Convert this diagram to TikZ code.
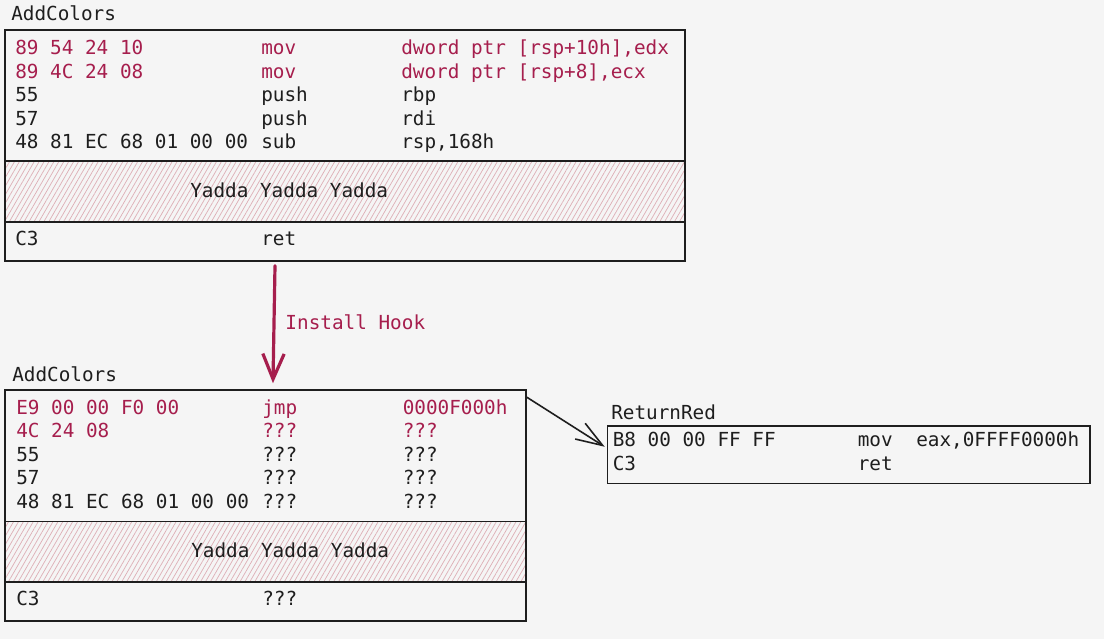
\documentclass[tikz,border=0pt]{standalone}
\usepackage{fontspec}
\setmonofont{DejaVu Sans Mono}
\usepackage{tikz}
\usetikzlibrary{arrows.meta,patterns.meta,fit}
\definecolor{hookred}{RGB}{166,30,77}
\definecolor{hookink}{RGB}{30,30,30}
\definecolor{hookpaper}{RGB}{245,245,245}
\definecolor{hookhatch}{RGB}{222,176,183}

\begin{document}
\begin{tikzpicture}[x=0.75pt,y=-0.75pt,
    asm/.style={font=\ttfamily\fontsize{14.5}{17}\selectfont, text=hookink, anchor=base west, inner sep=0pt},
    fnbox/.style={draw=hookink, line width=1.2pt, inner sep=0pt},
    yaddabox/.style={fnbox, pattern={Lines[angle=60,distance=3.2pt,line width=0.55pt]}, pattern color=hookhatch}]
    % paper
    \fill[hookpaper] (0,0) rectangle (1104,639);

    % original function
    \node[asm] (oldtitle) at (11,21) {AddColors};
    \node[yaddabox, fit={(5,161) (685,222)}] (oldyadda) {};
    \node[fnbox, fit={(5,30) (685,261)}] (oldfn) {};
    \foreach \y/\hex/\op/\arg/\ink [count=\i] in {
        54.5/89 54 24 10/mov/{dword ptr [rsp+10h],edx}/hookred,
        78/89 4C 24 08/mov/{dword ptr [rsp+8],ecx}/hookred,
        101.5/55/push/rbp/hookink,
        125/57/push/rdi/hookink,
        148.5/48 81 EC 68 01 00 00/sub/{rsp,168h}/hookink} {
        \node[asm, text=\ink] (oldhex\i) at (15,\y) {\hex};
        \node[asm, text=\ink] (oldop\i) at (261,\y) {\op};
        \node[asm, text=\ink] (oldarg\i) at (401,\y) {\arg};
    }
    \node[asm] (oldfill) at (190,197) {Yadda Yadda Yadda};
    \node[asm] (oldhexret) at (15,245) {C3};
    \node[asm] (oldret) at (261,245) {ret};

    % hooked function
    \node[asm] (newtitle) at (12,381.5) {AddColors};
    \node[yaddabox, fit={(5,521.5) (526,582)}] (newyadda) {};
    \node[fnbox, fit={(5,390) (526,621)}] (newfn) {};
    \foreach \y/\hex/\op/\arg/\ink [count=\i] in {
        414/E9 00 00 F0 00/jmp/0000F000h/hookred,
        437.5/4C 24 08/???/???/hookred,
        461/55/???/???/hookink,
        484.5/57/???/???/hookink,
        508/48 81 EC 68 01 00 00/???/???/hookink} {
        \node[asm, text=\ink] (newhex\i) at (16,\y) {\hex};
        \node[asm, text=\ink] (newop\i) at (262,\y) {\op};
        \node[asm, text=\ink] (newarg\i) at (402.5,\y) {\arg};
    }
    \node[asm] (newfill) at (191,557) {Yadda Yadda Yadda};
    \node[asm] (newhexret) at (16,605) {C3};
    \node[asm] (newret) at (262,605) {???};

    % hook target
    \node[asm] (rettitle) at (611,419.5) {ReturnRed};
    \node[fnbox, fit={(607.5,426) (1090,483.5)}] (retred) {};
    \node[asm] (rethex1) at (612.5,446.5) {B8 00 00 FF FF};
    \node[asm] (retop1) at (857.5,446.5) {mov};
    \node[asm] (retarg1) at (916,446.5) {eax,0FFFF0000h};
    \node[asm] (rethex2) at (612.5,470) {C3};
    \node[asm] (retop2) at (857.5,470) {ret};

    % arrows
    \draw[hookred, line width=2.4pt, line cap=round, -{Straight Barb[length=19pt,width=16pt]}]
        ([xshift=-52.5pt,yshift=-3pt]oldfn.south) -- ([xshift=5.6pt,yshift=4.5pt]newfn.north)
        node[asm, text=hookred, pos=0.546, xshift=7.5pt] (hooklbl) {Install Hook};
    \draw[hookink, line width=1.2pt, -{Straight Barb[length=20pt,width=14pt]}]
        ([yshift=-6pt]newfn.north east) -- ([xshift=-1.5pt,yshift=6pt]retred.west);
\end{tikzpicture}
\end{document}
